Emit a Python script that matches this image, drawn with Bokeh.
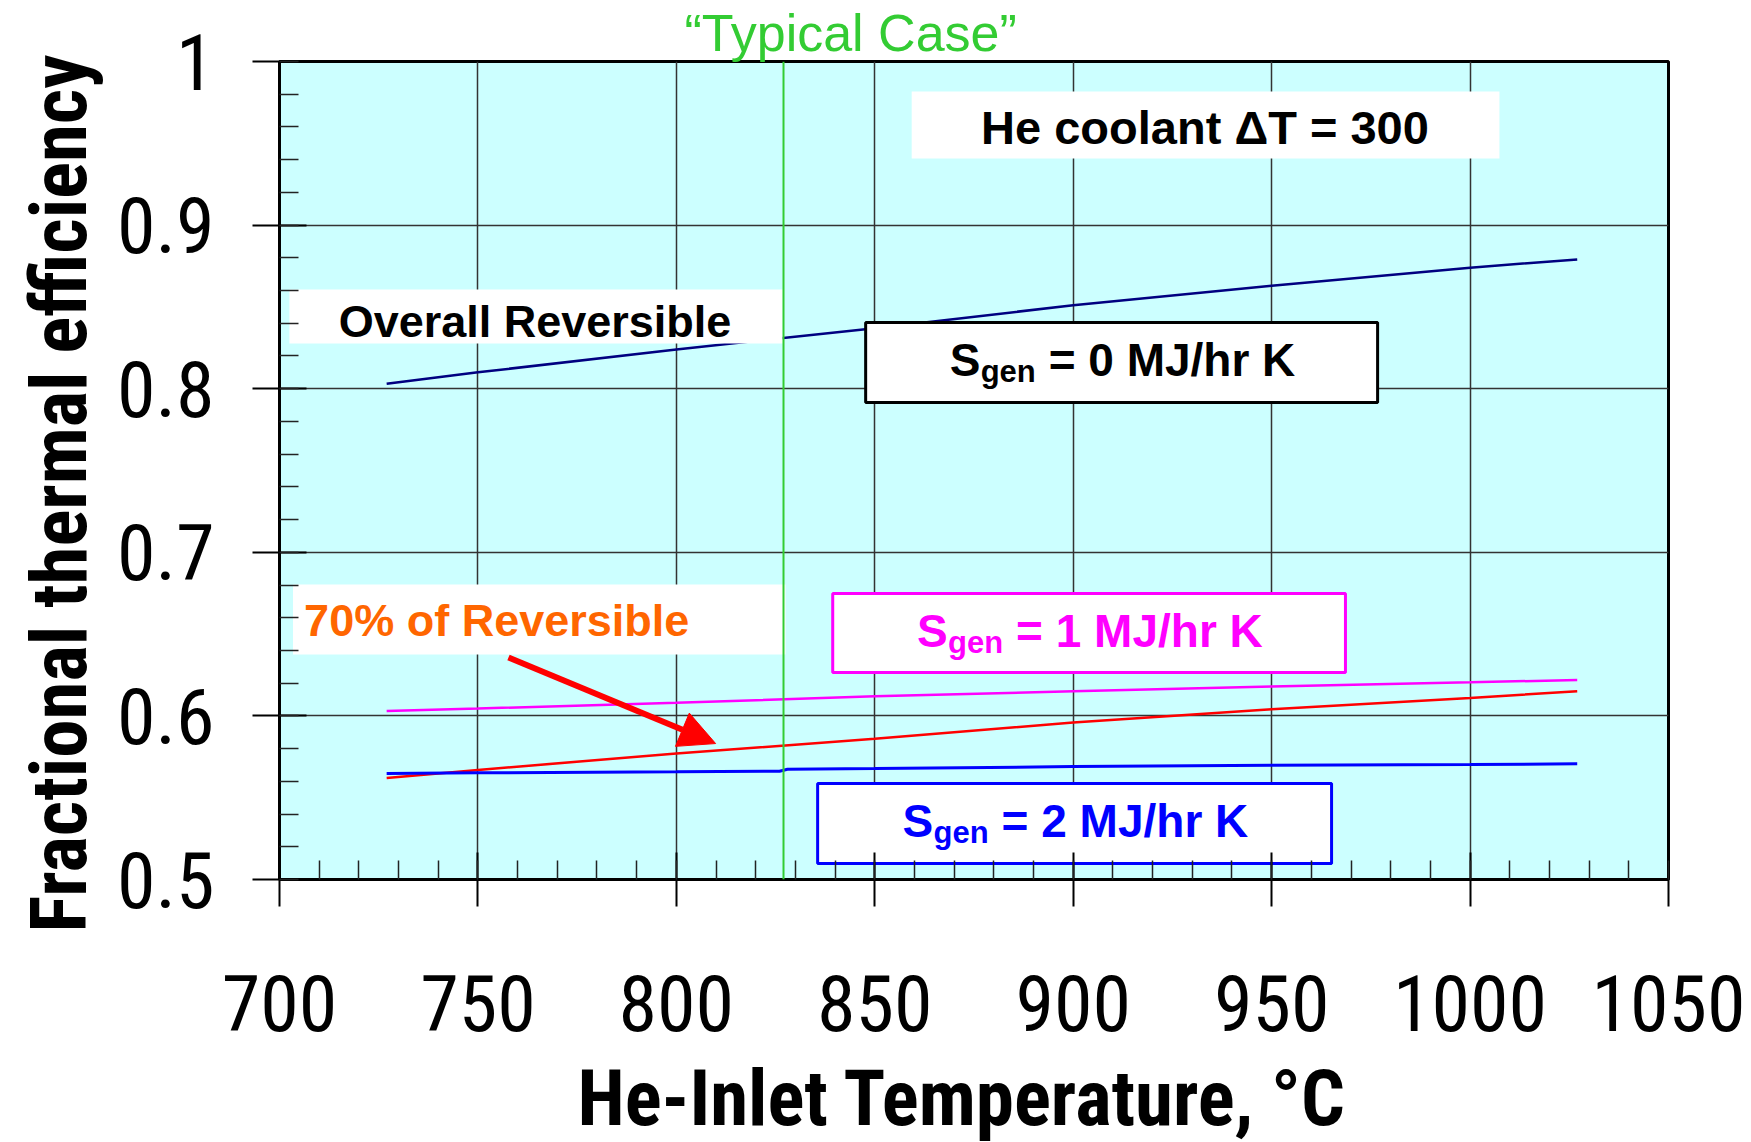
from bokeh.plotting import figure
from bokeh.models import FixedTicker, Span, Title, Arrow, NormalHead, ColumnDataSource
from bokeh.core.properties import value
from bokeh.embed import file_html
from bokeh.resources import INLINE

# ---------------- data ----------------
x_temp = [727, 750, 800, 850, 900, 950, 1000, 1027]
eff_reversible = [0.803, 0.810, 0.824, 0.837, 0.851, 0.863, 0.874, 0.879]
eff_70pct = [0.562, 0.567, 0.577, 0.586, 0.596, 0.604, 0.611, 0.615]

x_s1 = [727, 750, 800, 850, 900, 950, 1000, 1027]
eff_sgen1 = [0.603, 0.6045, 0.608, 0.612, 0.615, 0.618, 0.6205, 0.622]

x_s2 = [727, 750, 800, 826, 828, 850, 900, 950, 1000, 1027]
eff_sgen2 = [0.5648, 0.5652, 0.5658, 0.5662, 0.5674, 0.5678, 0.569, 0.5698, 0.5703, 0.5707]

typical_case_x = 827

x_ticks = [700, 750, 800, 850, 900, 950, 1000, 1050]
x_minor = list(range(700, 1051, 10))
y_ticks = [0.5, 0.6, 0.7, 0.8, 0.9, 1.0]
y_tick_labels = ["0.5", "0.6", "0.7", "0.8", "0.9", "1"]
y_minor = [0.5 + 0.02 * i for i in range(26)]

x_title = "He-Inlet Temperature, °C"
y_title = "Fractional thermal efficiency"
top_note = "\u201cTypical Case\u201d"

sgen_values = ["= 0 MJ/hr K", "= 1 MJ/hr K", "= 2 MJ/hr K"]
sgen_colors = ["black", "#FF00FF", "#0000FF"]
sgen_left = [847.7, 839.4, 835.6]
sgen_right = [976.7, 968.6, 965.1]
sgen_top = [0.8405, 0.6748, 0.5587]
sgen_bottom = [0.7916, 0.6265, 0.5098]

plain_texts = ["He coolant ΔT = 300", "Overall Reversible", "70% of Reversible"]
plain_colors = ["black", "black", "#FF6600"]
plain_left = [859.3, 702.5, 703.4]
plain_right = [1007.4, 826.8, 827.5]
plain_top = [0.9817, 0.8606, 0.6803]
plain_bottom = [0.9407, 0.8276, 0.6375]
plain_text_x = [933.2, 714.9, 706.2]
plain_text_y = [0.9493, 0.8307, 0.6482]
plain_align = ["center", "left", "left"]
plain_size = ["47px", "45px", "45px"]

arrow_start = (757.7, 0.6357)
arrow_end = (809.9, 0.5831)

NARROW = "Roboto Condensed, DejaVu Sans Condensed, Liberation Sans Narrow, Arial Narrow, Liberation Sans"

# ---------------- figure ----------------
p = figure(frame_width=1389, frame_height=818,
           x_range=(700, 1050), y_range=(0.5, 1.0),
           output_backend="svg", toolbar_location=None,
           min_border_left=279, min_border_right=83,
           min_border_top=61, min_border_bottom=263,
           background_fill_color="#CCFFFF", border_fill_color="white")

p.outline_line_color = "black"
p.outline_line_width = 3

p.xaxis.ticker = FixedTicker(ticks=x_ticks, minor_ticks=x_minor)
p.yaxis.ticker = FixedTicker(ticks=y_ticks, minor_ticks=y_minor)
p.yaxis.major_label_overrides = {t: l for t, l in zip(y_ticks, y_tick_labels)}

for ax in (p.xaxis[0], p.yaxis[0]):
    ax.axis_line_color = "black"
    ax.axis_line_width = 3
    ax.major_tick_line_color = "black"
    ax.major_tick_line_width = 2
    ax.minor_tick_line_color = "#222222"
    ax.minor_tick_line_width = 1.5
    ax.major_tick_in = 27
    ax.major_tick_out = 27
    ax.minor_tick_in = 19
    ax.minor_tick_out = 0
    ax.major_label_text_font = NARROW
    ax.major_label_text_font_size = "78px"
    ax.major_label_text_color = "black"

p.xaxis.major_label_standoff = 68
p.yaxis.major_label_standoff = 38

# axis titles as side-panel titles (placed outside the axes)
p.add_layout(Title(text=x_title, align="left", offset=298, standoff=36,
                   text_color="black", text_font=NARROW, text_font_size="77px",
                   text_font_style="bold"), "below")
p.add_layout(Title(text=y_title, align="left", offset=-53, standoff=18,
                   text_color="black", text_font=NARROW, text_font_size="77px",
                   text_font_style="bold"), "left")

p.xgrid.ticker = FixedTicker(ticks=x_ticks)
p.ygrid.ticker = FixedTicker(ticks=y_ticks)
p.xgrid.grid_line_color = "#333333"
p.ygrid.grid_line_color = "#333333"
p.xgrid.grid_line_width = 1.5
p.ygrid.grid_line_width = 1.5

# ---------------- curves ----------------
p.line(x_temp, eff_reversible, line_color="#000080", line_width=2.5)
p.line(x_s1, eff_sgen1, line_color="#FF00FF", line_width=2.5)
p.line(x_temp, eff_70pct, line_color="#FF0000", line_width=2.5)
p.line(x_s2, eff_sgen2, line_color="#0000FF", line_width=3)

# ---------------- boxes ----------------
p.quad(left=plain_left, right=plain_right, top=plain_top, bottom=plain_bottom,
       fill_color="white", line_color=None)
p.quad(left=sgen_left, right=sgen_right, top=sgen_top, bottom=sgen_bottom,
       fill_color="white", line_color=sgen_colors, line_width=3)

for txt, col, tx, ty, al, fs in zip(plain_texts, plain_colors, plain_text_x, plain_text_y,
                                    plain_align, plain_size):
    p.text(x=[tx], y=[ty], text=[txt], text_color=col, text_align=al, y_offset=-17,
           text_baseline="alphabetic", text_font=value("Liberation Sans"),
           text_font_style="bold", text_font_size=fs)

sgen_cx = [(l + r) / 2 for l, r in zip(sgen_left, sgen_right)]
sgen_cy = [(t + b) / 2 for t, b in zip(sgen_top, sgen_bottom)]
src = ColumnDataSource(dict(x=sgen_cx, y=sgen_cy, rest=sgen_values, color=sgen_colors,
                            s=["S"] * 3, sub=["gen"] * 3))
p.text(x="x", y="y", text="s", source=src, text_color="color", x_offset=-172, y_offset=-2,
       text_align="left", text_baseline="alphabetic", text_font=value("Liberation Sans"),
       text_font_style="bold", text_font_size="46px")
p.text(x="x", y="y", text="sub", source=src, text_color="color", x_offset=-141, y_offset=9,
       text_align="left", text_baseline="alphabetic", text_font=value("Liberation Sans"),
       text_font_style="bold", text_font_size="31px")
p.text(x="x", y="y", text="rest", source=src, text_color="color", x_offset=-73, y_offset=-2,
       text_align="left", text_baseline="alphabetic", text_font=value("Liberation Sans"),
       text_font_style="bold", text_font_size="46px")

# ---------------- annotations ----------------
p.add_layout(Span(location=typical_case_x, dimension="height", line_color="#33CC33", line_width=2))
p.add_layout(Title(text=top_note, align="left", offset=405, standoff=0,
                   text_color="#33CC33", text_font="Liberation Sans", text_font_size="52px",
                   text_font_style="normal"), "above")
p.add_layout(Arrow(x_start=arrow_start[0], y_start=arrow_start[1],
                   x_end=arrow_end[0], y_end=arrow_end[1],
                   line_color="#FF0000", line_width=6,
                   end=NormalHead(size=36, fill_color="#FF0000", line_color="#FF0000")))

open("out.html", "w").write(file_html(p, INLINE))
